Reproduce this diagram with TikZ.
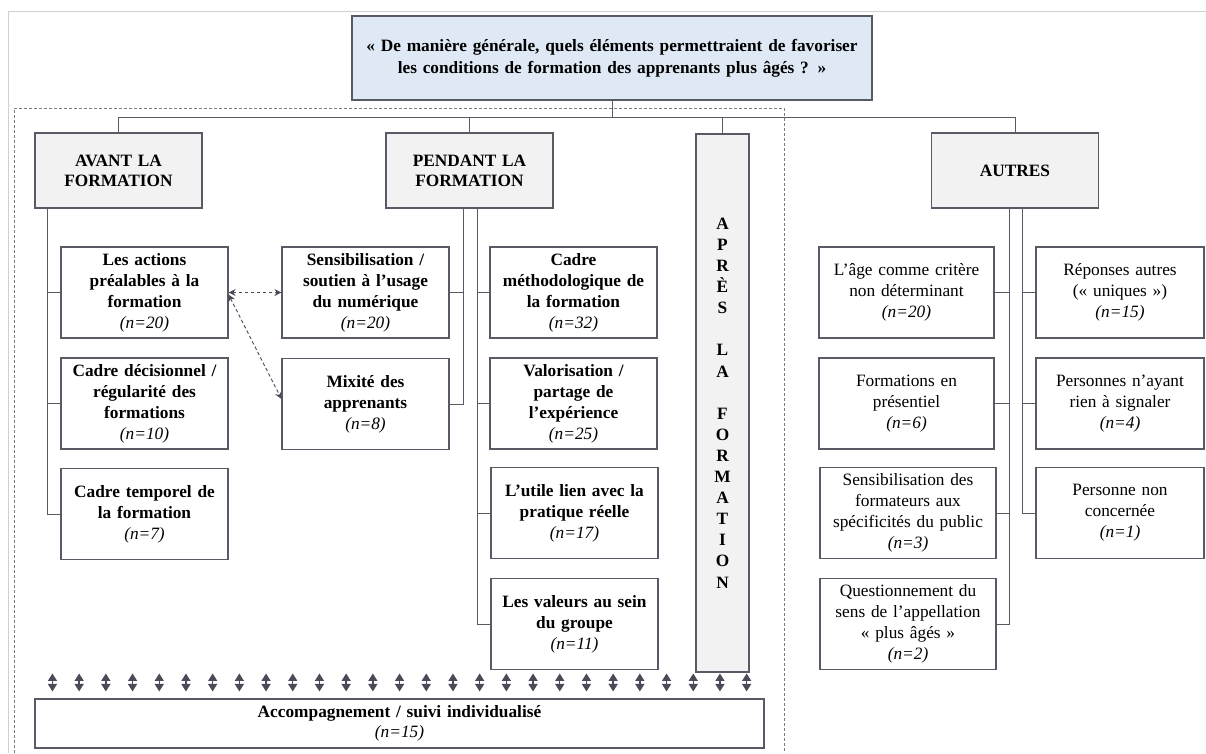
\documentclass[tikz,border=0pt]{standalone}
\usepackage{fontspec}
\setmainfont{Liberation Serif}
\usetikzlibrary{arrows.meta,calc}
\definecolor{bd}{HTML}{5A5A66}
\definecolor{ar}{HTML}{4A4A58}
\definecolor{hdrfill}{HTML}{F2F2F2}
\definecolor{titlefill}{HTML}{DEE9F5}
\definecolor{frame}{HTML}{D0D0D0}
\newcommand\nn[1]{\\{\mdseries\itshape (n=#1)}}
\begin{document}
\begin{tikzpicture}[x=1pt,y=-1pt,
  box/.style={draw=bd, line width=1.1pt, fill=white, align=center, inner sep=0pt,
    minimum width=167pt, minimum height=91pt, text width=162pt,
    font=\bfseries\fontsize{17.3}{21}\selectfont},
  rbox/.style={box, font=\fontsize{17.3}{21}\selectfont},
  hdr/.style={box, fill=hdrfill, minimum height=75pt, font=\bfseries\fontsize{17.3}{20}\selectfont},
  conn/.style={draw=bd, line width=0.9pt},
  dasharrow/.style={draw=ar, line width=0.9pt, dash pattern=on 3.5pt off 2.5pt,
    {Stealth[length=7pt,width=7pt]}-{Stealth[length=7pt,width=7pt]}},
  dblarrow/.style={draw=ar, fill=ar, line width=1.4pt,
    {Triangle[length=7.5pt,width=9pt]}-{Triangle[length=7.5pt,width=9pt]}}
]
\useasboundingbox (0,0) rectangle (1206,753);
% outer light frame
\draw[frame, line width=1pt] (8,753) -- (8,11) -- (1206,11);
% dashed frame
\draw[bd!80, line width=0.8pt, dash pattern=on 3pt off 2pt] (14,753) -- (14,108) -- (784,108) -- (784,753);

% title
\node[box, fill=titlefill, minimum width=520pt, minimum height=84pt, text width=515pt,
  font=\bfseries\fontsize{17.3}{22}\selectfont] (title) at (612,58)
  {« De manière générale, quels éléments permettraient de favoriser\\les conditions de formation des apprenants plus âgés ? »};

% headers
\node[hdr] (avant) at (118.5,170.5) {AVANT LA\\FORMATION};
\node[hdr] (pendant) at (469.5,170.5) {PENDANT LA\\FORMATION};
\node[hdr] (autres) at (1015,170.5) {AUTRES};
\node[hdr, minimum width=53pt, minimum height=538pt, text width=50pt,
  font=\bfseries\fontsize{17.3}{21.1}\selectfont] (apres) at (722.5,403)
  {A\\P\\R\\È\\S\\~\\L\\A\\~\\F\\O\\R\\M\\A\\T\\I\\O\\N};

% AVANT column
\node[box] (a1) at (144.5,292.5) {Les actions\\préalables à la\\formation\nn{20}};
\node[box] (a2) at (144.5,403.5) {Cadre décisionnel /\\régularité des\\formations\nn{10}};
\node[box] (a3) at (144.5,514) {Cadre temporel de\\la formation\nn{7}};

% PENDANT left
\node[box] (s1) at (365.5,292.5) {Sensibilisation /\\soutien à l’usage\\du numérique\nn{20}};
\node[box] (mix) at (365.5,404) {Mixité des\\apprenants\nn{8}};

% PENDANT right
\node[box] (m1) at (573.5,292.5) {Cadre\\méthodologique de\\la formation\nn{32}};
\node[box] (m2) at (573.5,403.5) {Valorisation /\\partage de\\l’expérience\nn{25}};
\node[box] (m3) at (574.5,513) {L’utile lien avec la\\pratique réelle\nn{17}};
\node[box] (m4) at (574.5,624) {Les valeurs au sein\\du groupe\nn{11}};

% AUTRES left
\node[rbox, minimum width=175pt, text width=170pt] (o1) at (906.5,292.5) {L’âge comme critère\\non déterminant\nn{20}};
\node[rbox, minimum width=175pt, text width=170pt] (o2) at (906.5,403.5) {Formations en\\présentiel\nn{6}};
\node[rbox, minimum width=176pt, text width=172pt] (o3) at (908,513) {Sensibilisation des\\formateurs aux\\spécificités du public\nn{3}};
\node[rbox, minimum width=176pt, text width=172pt] (o4) at (908,624) {Questionnement du\\sens de l’appellation\\« plus âgés »\nn{2}};

% AUTRES right
\node[rbox, minimum width=168pt] (r1) at (1120,292.5) {Réponses autres\\(« uniques »)\nn{15}};
\node[rbox, minimum width=168pt] (r2) at (1120,403.5) {Personnes n’ayant\\rien à signaler\nn{4}};
\node[rbox, minimum width=168pt] (r3) at (1120,513) {Personne non\\concernée\nn{1}};

% bottom box
\node[box, minimum width=729pt, minimum height=49pt, text width=720pt,
  font=\bfseries\fontsize{17.3}{20}\selectfont] (accomp) at (399.5,723.5)
  {Accompagnement / suivi individualisé\nn{15}};

% top connectors
\coordinate (bus) at (612,117);
\draw[conn] (title.south) -- (bus);
\draw[conn] (avant.north) -- (avant.north |- bus) -- (autres.north |- bus) -- (autres.north);
\draw[conn] (pendant.north) -- (pendant.north |- bus);
\draw[conn] (apres.north) -- (apres.north |- bus);

% trunks
\coordinate (avt) at (47,208);
\draw[conn] (avt) |- (a1.west);
\draw[conn] (avt) |- (a2.west);
\draw[conn] (avt) |- (a3.west);

\coordinate (pl) at (463,208);
\draw[conn] (pl) |- (s1.east);
\draw[conn] (pl) |- (mix.east);
\coordinate (pr) at (477,208);
\draw[conn] (pr) |- (m1.west);
\draw[conn] (pr) |- (m2.west);
\draw[conn] (pr) |- (m3.west);
\draw[conn] (pr) |- (m4.west);

\coordinate (ol) at (1009,208);
\draw[conn] (ol) |- (o1.east);
\draw[conn] (ol) |- (o2.east);
\draw[conn] (ol) |- (o3.east);
\draw[conn] (ol) |- (o4.east);
\coordinate (orr) at (1022,208);
\draw[conn] (orr) |- (r1.west);
\draw[conn] (orr) |- (r2.west);
\draw[conn] (orr) |- (r3.west);

% dashed arrows
\draw[dasharrow] (a1.east) -- (s1.west);
\draw[dasharrow] ([yshift=-2pt]a1.east) -- ([yshift=5pt]mix.west);

% double arrows
\foreach \i in {0,...,26}{
  \draw[dblarrow] ($(accomp.north west)+(18+\i*26.7,-25)$) -- ++(0,18);
}
\end{tikzpicture}
\end{document}
